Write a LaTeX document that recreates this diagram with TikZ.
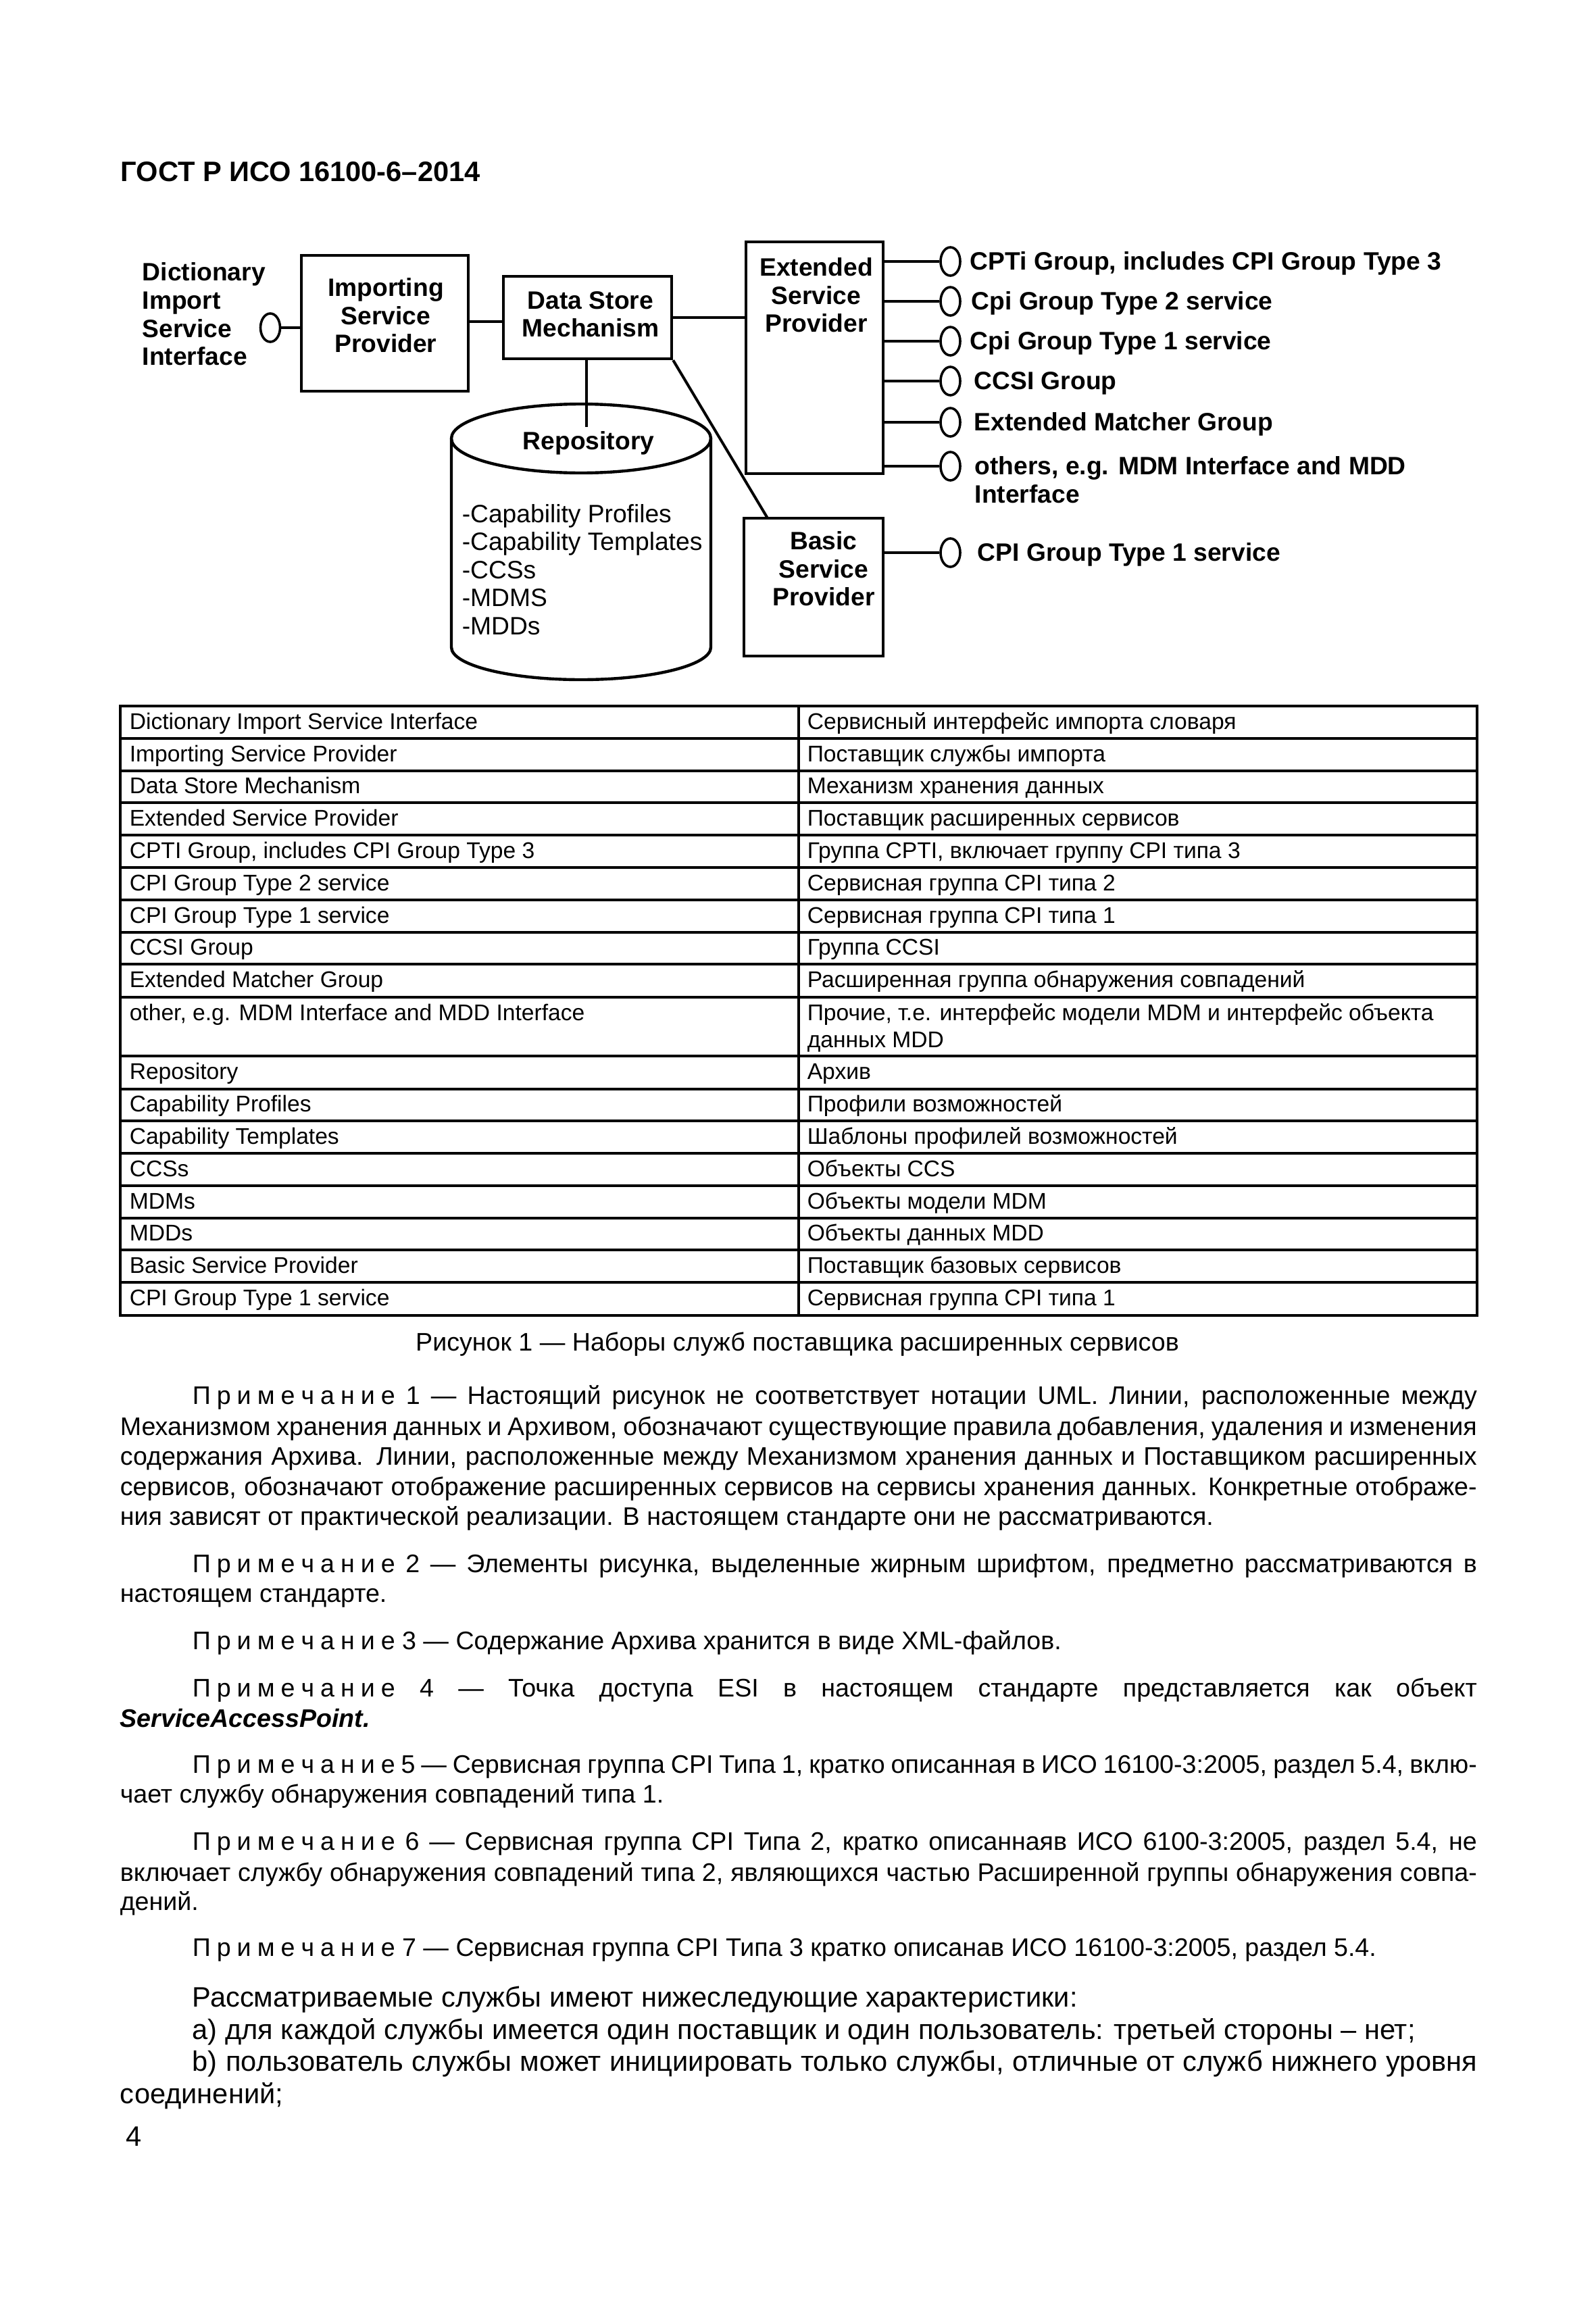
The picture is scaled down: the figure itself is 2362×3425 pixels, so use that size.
\documentclass[tikz,border=0pt]{standalone}
\usepackage{fontspec}
\setmainfont{Liberation Sans}
\usetikzlibrary{shapes.geometric}
\newcommand\dgfont{\fontsize{9.3}{10.4}\selectfont\bfseries}
\newcommand\rpfont{\fontsize{9.3}{10.4}\selectfont}
\newcommand\tbfont{\fontsize{8.4}{10}\selectfont}
\newcommand\ntfont{\fontsize{9.4}{11.2}\selectfont}
\newcommand\bdfont{\fontsize{10.4}{12}\selectfont}
\newcommand\ttlfont{\fontsize{10.4}{12}\selectfont\bfseries}
\newcommand\Primech{П\kern2.25pt р\kern2.25pt и\kern2.25pt м\kern2.25pt е\kern2.25pt ч\kern2.25pt а\kern2.25pt н\kern2.25pt и\kern2.25pt е}
\newcommand\JI[1]{\makebox[475.25pt][s]{#1}}
\newcommand\JF[1]{\makebox[502pt][s]{#1}}
\tikzset{
  box/.style={draw, line width=1.1pt, inner sep=0pt},
  port/.style={draw, ellipse, line width=0.9pt, inner sep=0pt, minimum width=29*0.25pt, minimum height=42*0.25pt},
  conn/.style={line width=1pt},
  dg/.style={font=\dgfont, inner sep=0pt, align=center},
  lbl/.style={font=\dgfont, inner sep=0pt, anchor=base west},
  tb/.style={font=\tbfont, inner sep=0pt, anchor=base west},
  nt/.style={font=\ntfont, inner sep=0pt, anchor=base west},
  bd/.style={font=\bdfont, inner sep=0pt, anchor=base west},
  grid/.style={line width=1pt}
}
\begin{document}
\begin{tikzpicture}[x=0.25pt,y=-0.25pt]
\useasboundingbox (0,0) rectangle (2362,3425);
\fill[white] (0,0) rectangle (2362,3425);

% title
\node[font=\ttlfont, inner sep=0pt, anchor=base west] (title) at (178,268) {ГОСТ Р ИСО 16100-6–2014};

% ---------- diagram ----------
\node[box, minimum width=247*0.25pt, minimum height=201*0.25pt] (isp) at (569.5,478.5) {};
\node[box, minimum width=249*0.25pt, minimum height=122*0.25pt] (dsm) at (869.5,470) {};
\node[box, minimum width=203*0.25pt, minimum height=343*0.25pt] (esp) at (1205.5,529.5) {};
\node[box, minimum width=206*0.25pt, minimum height=204*0.25pt] (bsp) at (1204,869) {};

\node[dg] (ispt) at (571,467) {Importing\\Service\\Provider};
\node[dg] (dsmt) at (874,465) {Data Store\\Mechanism};
\node[dg] (espt) at (1208,437) {Extended\\Service\\Provider};
\node[dg] (bspt) at (1219,842) {Basic\\Service\\Provider};
\node[dg, align=left, anchor=west] (disit) at (210,465) {Dictionary\\Import\\Service\\Interface};

\node[port] (disi) at (400,485) {};
\draw[conn] (disi.east) -- (disi.east -| isp.west);
\draw[conn] (isp.east |- 0,476) -- (dsm.west |- 0,476);
\draw[conn] (dsm.east) -- (dsm.east -| esp.west);
\coordinate (bsptop) at (1136,767);
\draw[conn] (dsm.south east) -- (bsptop);

% repository cylinder
\draw[line width=1.1pt] (860,649) ellipse [x radius=192, y radius=51];
\draw[line width=1.1pt] (668,649) -- (668,958) arc [start angle=180, end angle=0, x radius=192, y radius=48] -- (1052,649);
\coordinate (repoin) at (868,632);
\draw[conn] (dsm.south -| repoin) -- (repoin);
\node[dg] (repot) at (871,656) {Repository};
\node[font=\rpfont, inner sep=0pt, align=left, anchor=west] (repol) at (683,843) {-Capability Profiles\\-Capability Templates\\-CCSs\\-MDMS\\-MDDs};

% interface ports
\node[port] (c1) at (1406.5,387) {};
\node[port] (c2) at (1406.5,446) {};
\node[port] (c3) at (1406.5,505) {};
\node[port] (c4) at (1406.5,564) {};
\node[port] (c5) at (1406.5,625) {};
\node[port] (c6) at (1406.5,690) {};
\node[port] (c7) at (1406.5,818) {};
\foreach \c in {c1,c2,c3,c4,c5,c6}{\draw[conn] (esp.east |- \c.west) -- (\c.west);}
\draw[conn] (bsp.east |- c7.west) -- (c7.west);

\node[lbl] (l1) at (1435,399) {CPTi Group, includes CPI Group Type 3};
\node[lbl] (l2) at (1437,458) {Cpi Group Type 2 service};
\node[lbl] (l3) at (1435,517) {Cpi Group Type 1 service};
\node[lbl] (l4) at (1441,576) {CCSI Group};
\node[lbl] (l5) at (1441,637) {Extended Matcher Group};
\node[lbl] (l6) at (1442,702) {others, e.g. MDM Interface and MDD};
\node[lbl] (l6b) at (1442,744) {Interface};
\node[lbl] (l7) at (1446,830) {CPI Group Type 1 service};

% ---------- table ----------
\draw[grid] (178,1045) rectangle (2186,1947);
\draw[grid] (1182,1045) -- (1182,1947);
\foreach \y in {1093,1141,1188,1236,1284,1332,1380,1427,1476,1563,1612,1659,1707,1755,1803,1850,1898}
  {\draw[grid] (178,\y) -- (2186,\y);}
\foreach \c/\l/\r [count=\i] in {
 1069/{Dictionary Import Service Interface}/{Сервисный интерфейс импорта словаря},
 1117/{Importing Service Provider}/{Поставщик службы импорта},
 1164.5/{Data Store Mechanism}/{Механизм хранения данных},
 1212/{Extended Service Provider}/{Поставщик расширенных сервисов},
 1260/{CPTI Group, includes CPI Group Type 3}/{Группа CPTI, включает группу CPI типа 3},
 1308/{CPI Group Type 2 service}/{Сервисная группа CPI типа 2},
 1356/{CPI Group Type 1 service}/{Сервисная группа CPI типа 1},
 1403.5/{CCSI Group}/{Группа CCSI},
 1451.5/{Extended Matcher Group}/{Расширенная группа обнаружения совпадений},
 1500/{other, e.g. MDM Interface and MDD Interface}/{Прочие, т.е. интерфейс модели MDM и интерфейс объекта},
 1587.5/{Repository}/{Архив},
 1635.5/{Capability Profiles}/{Профили возможностей},
 1683/{Capability Templates}/{Шаблоны профилей возможностей},
 1731/{CCSs}/{Объекты CCS},
 1779/{MDMs}/{Объекты модели MDM},
 1826.5/{MDDs}/{Объекты данных MDD},
 1874/{Basic Service Provider}/{Поставщик базовых сервисов},
 1922.5/{CPI Group Type 1 service}/{Сервисная группа CPI типа 1}}
{
 \node[tb] (tl\i) at (191,\c+10) {\l};
 \node[tb] (tr\i) at (1194,\c+10) {\r};
}
\node[tb] (tr10b) at (1194,1550) {данных MDD};

% caption
\node[font=\ntfont, inner sep=0pt, anchor=base] (cap) at (1180,1999) {Рисунок 1 — Наборы служб поставщика расширенных сервисов};

% ---------- notes ----------
\node[nt] (n1a) at (284,2078) {\JI{\Primech{} 1 — Настоящий рисунок не соответствует нотации UML. Линии, расположенные между}};
\node[nt] (n1b) at (177,2124) {\JF{Механизмом хранения данных и Архивом, обозначают существующие правила добавления, удаления и изменения}};
\node[nt] (n1c) at (177,2168) {\JF{содержания Архива. Линии, расположенные между Механизмом хранения данных и Поставщиком расширенных}};
\node[nt] (n1d) at (177,2213) {\JF{сервисов, обозначают отображение расширенных сервисов на сервисы хранения данных. Конкретные отображе-}};
\node[nt] (n1e) at (177,2257) {ния зависят от практической реализации. В настоящем стандарте они не рассматриваются.};

\node[nt] (n2a) at (284,2327) {\JI{\Primech{} 2 — Элементы рисунка, выделенные жирным шрифтом, предметно рассматриваются в}};
\node[nt] (n2b) at (177,2371) {настоящем стандарте.};

\node[nt] (n3a) at (284,2441) {\Primech{} 3 — Содержание Архива хранится в виде XML-файлов.};

\node[nt] (n4a) at (284,2511) {\JI{\Primech{} 4 — Точка доступа ESI в настоящем стандарте представляется как объект}};
\node[nt] (n4b) at (177,2556) {\textbf{\textit{ServiceAccessPoint.}}};

\node[nt] (n5a) at (284,2624) {\JI{\Primech{} 5 — Сервисная группа CPI Типа 1, кратко описанная в ИСО 16100-3:2005, раздел 5.4, вклю-}};
\node[nt] (n5b) at (177,2668) {чает службу обнаружения совпадений типа 1.};

\node[nt] (n6a) at (284,2738) {\JI{\Primech{} 6 — Сервисная группа CPI Типа 2, кратко описаннаяв ИСО 6100-3:2005, раздел 5.4, не}};
\node[nt] (n6b) at (177,2784) {\JF{включает службу обнаружения совпадений типа 2, являющихся частью Расширенной группы обнаружения совпа-}};
\node[nt] (n6c) at (177,2827) {дений.};

\node[nt] (n7a) at (284,2895) {\Primech{} 7 — Сервисная группа CPI Типа 3 кратко описанав ИСО 16100-3:2005, раздел 5.4.};

% ---------- body ----------
\node[bd] (b1) at (284,2970) {Рассматриваемые службы имеют нижеследующие характеристики:};
\node[bd] (b2) at (284,3018) {а) для каждой службы имеется один поставщик и один пользователь: третьей стороны – нет;};
\node[bd] (b3) at (284,3065) {\JI{b) пользователь службы может инициировать только службы, отличные от служб нижнего уровня}};
\node[bd] (b4) at (177,3113) {соединений;};

\node[bd] (pg) at (186,3176) {4};
\end{tikzpicture}
\end{document}
